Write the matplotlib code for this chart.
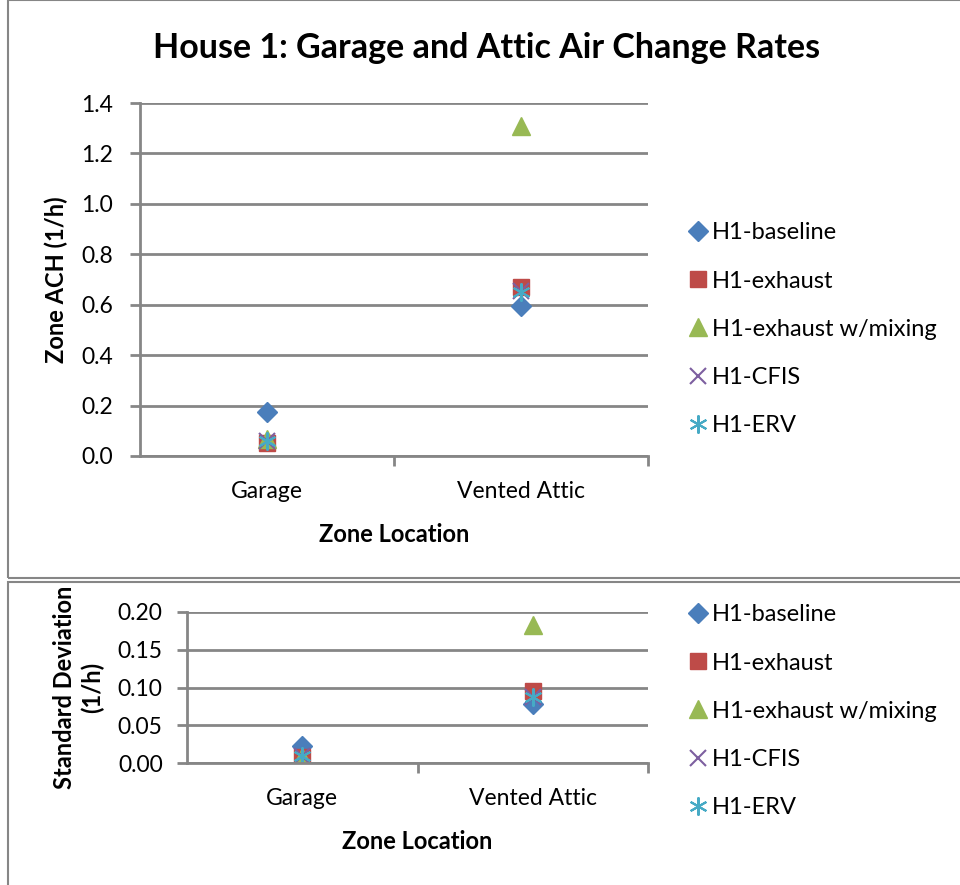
import matplotlib
matplotlib.use("Agg")
import matplotlib.pyplot as plt
from matplotlib.patches import Rectangle

plt.rcParams["font.family"] = ["Lato", "DejaVu Sans"]

zones = ["Garage", "Vented Attic"]
series = ["H1-baseline", "H1-exhaust", "H1-exhaust w/mixing", "H1-CFIS", "H1-ERV"]

# mean zone ACH (1/h)
ach_baseline = [0.175, 0.595]
ach_exhaust = [0.050, 0.670]
ach_mixing = [0.068, 1.310]
ach_cfis = [0.058, 0.655]
ach_erv = [0.060, 0.650]

# standard deviation (1/h)
sd_baseline = [0.023, 0.078]
sd_exhaust = [0.008, 0.096]
sd_mixing = [0.008, 0.183]
sd_cfis = [0.009, 0.088]
sd_erv = [0.009, 0.088]

styles = [
    dict(marker="D", color="#4a7ebb", ms=10.5, mec="#4a7ebb"),
    dict(marker="s", color="#be4b48", ms=11.5, mec="#be4b48"),
    dict(marker="^", color="#98b954", ms=12.5, mec="#98b954"),
    dict(marker="x", color="#7d5fa0", ms=11, mew=1.5),
    dict(marker=(6, 2, 0), color="#46aac5", ms=13, mew=1.5),
]

GRAY = "#868686"
W, H = 960, 885
fig = plt.figure(figsize=(W / 100, H / 100), dpi=100)

# chart borders
fig.patches.append(Rectangle((8 / W, 1 - 578 / H), 1, 578 / H, transform=fig.transFigure,
                             fill=False, ec=GRAY, lw=1.5))
fig.patches.append(Rectangle((8 / W, -0.01), 1, 1 - 582 / H + 0.01, transform=fig.transFigure,
                             fill=False, ec=GRAY, lw=1.5))

FS = 16.5


def make_ax(rect, data, ymax, ystep, fmt, ylabel, legend_top, ypad, ylabelpad):
    l, t, r, b = rect
    ax = fig.add_axes([l / W, 1 - b / H, (r - l) / W, (b - t) / H])
    x = [1, 2]
    for vals, name, st in zip(data, series, styles):
        ax.plot(x, vals, ls="none", label=name, **st)
    ax.set_xlim(0.5, 2.5)
    ax.set_ylim(0, ymax)
    n = int(round(ymax / ystep))
    ax.set_yticks([i * ystep for i in range(n + 1)])
    ax.set_yticklabels([fmt.format(i * ystep) for i in range(n + 1)], fontsize=FS)
    ax.set_xticks(x)
    ax.set_xticklabels(zones, fontsize=FS)
    ax.set_xticks([1.5, 2.5], minor=True)
    ax.tick_params(axis="x", which="major", length=0, pad=18)
    ax.tick_params(axis="x", which="minor", length=7, width=2, color=GRAY)
    ax.tick_params(axis="y", length=7.5, width=2, color=GRAY, pad=ypad)
    ax.grid(axis="y", color=GRAY, lw=2)
    ax.set_axisbelow(True)
    for s in ["top", "right"]:
        ax.spines[s].set_visible(False)
    for s in ["left", "bottom"]:
        ax.spines[s].set_color(GRAY)
        ax.spines[s].set_linewidth(2)
    ax.set_xlabel("Zone Location", fontsize=17, fontweight="bold", labelpad=15)
    ax.set_ylabel(ylabel, fontsize=17, fontweight="bold", labelpad=ylabelpad)
    ax.legend(loc="upper left", bbox_to_anchor=(679 / W, 1 - legend_top / H),
              bbox_transform=fig.transFigure, frameon=False, fontsize=17,
              labelspacing=1.15, handlelength=0.8, handletextpad=0.2, borderaxespad=0)
    return ax


ax1 = make_ax((140, 103, 648, 456),
              [ach_baseline, ach_exhaust, ach_mixing, ach_cfis, ach_erv],
              1.4, 0.2, "{:.1f}", "Zone ACH (1/h)", 213, 12, 9)
fig.text(487 / W, 1 - 48 / H, "House 1: Garage and Attic Air Change Rates",
         fontsize=24.5, fontweight="bold", ha="center", va="center")

ax2 = make_ax((187, 612, 648, 763),
              [sd_baseline, sd_exhaust, sd_mixing, sd_cfis, sd_erv],
              0.20, 0.05, "{:.2f}", "Standard Deviation\n(1/h)", 595, 10, 10)

fig.savefig("out.png", dpi=100)
